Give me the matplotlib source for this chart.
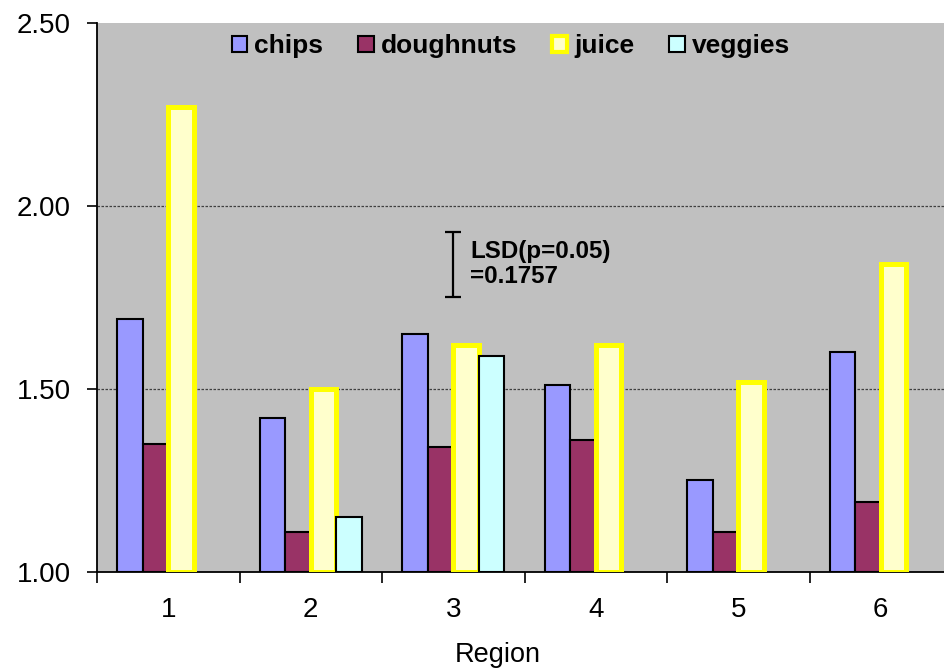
import numpy as np
import matplotlib
matplotlib.use("Agg")
import matplotlib.pyplot as plt

plt.rcParams['font.family'] = ['Liberation Sans', 'DejaVu Sans']

regions = ['1', '2', '3', '4', '5', '6']
chips = [1.69, 1.42, 1.65, 1.51, 1.25, 1.60]
doughnuts = [1.35, 1.11, 1.34, 1.36, 1.11, 1.19]
juice = [2.27, 1.50, 1.62, 1.62, 1.52, 1.84]
veggies = [np.nan, 1.15, 1.59, np.nan, np.nan, np.nan]
lsd = 0.1757
lsd_center = 1.84

base = 1.0
x = np.arange(1, len(regions) + 1)
w = 0.179

fig = plt.figure(figsize=(9.45, 6.71), dpi=100)
ax = fig.add_axes([97 / 945, 1 - 572 / 671, 855 / 945, 549.3 / 671])
ax.set_facecolor('#C0C0C0')

series = [
    ('chips', chips, '#9999FF', 'black', 1.5),
    ('doughnuts', doughnuts, '#993366', 'black', 1.5),
    ('juice', juice, '#FFFFCC', '#FFFF00', 3.6),
    ('veggies', veggies, '#CCFFFF', 'black', 1.5),
]
handles = []
for i, (name, vals, fc, ec, lw) in enumerate(series):
    vals = np.array(vals, dtype=float)
    ok = ~np.isnan(vals)
    ax.bar(x[ok] + (i - 1.5) * w, vals[ok] - base, bottom=base, width=w,
           facecolor=fc, edgecolor=ec, linewidth=lw, zorder=3)
    handles.append(plt.Rectangle((0, 0), 1, 1, facecolor=fc, edgecolor=ec,
                                 linewidth=1.5 if ec == 'black' else 3.0,
                                 label=name))

ax.set_xlim(0.5, 6.5)
ax.set_ylim(1.0, 2.5)
ax.set_yticks([1.0, 1.5, 2.0, 2.5])
ax.set_yticklabels(['1.00', '1.50', '2.00', '2.50'])
ax.set_xticks(x)
ax.set_xticklabels(regions)
ax.set_xticks(np.arange(0.5, 7.0, 1.0), minor=True)
ax.tick_params(axis='x', which='major', length=0, labelsize=20, pad=18)
ax.tick_params(axis='x', which='minor', length=8, width=1.2, direction='out')
ax.tick_params(axis='y', length=7, width=1.2, labelsize=20, pad=12)

for yv in [1.5, 2.0]:
    ax.axhline(yv, color='#404040', linestyle=(0, (2, 1.2)), linewidth=0.9, zorder=1)

for side in ['top', 'right']:
    ax.spines[side].set_visible(False)
ax.spines['left'].set_linewidth(1.3)
ax.spines['bottom'].set_linewidth(1.3)

# LSD bar
ax.errorbar(3.0, lsd_center, yerr=lsd / 2, fmt='none', ecolor='black',
            elinewidth=1.6, capsize=6, capthick=1.6, zorder=4)
ax.text(3.12, lsd_center, 'LSD(p=0.05)\n=%.4f' % lsd, fontsize=17.4,
        fontweight='bold', va='center', ha='left', linespacing=1.1, zorder=4)

ax.legend(handles=handles, loc='center', bbox_to_anchor=(0.484, 0.957), ncol=4,
          frameon=False, handlelength=0.6, handleheight=0.6, handletextpad=0.27,
          columnspacing=1.3, prop={'size': 19, 'weight': 'bold'})

fig.text(498 / 945, 1 - 655 / 671, 'Region', fontsize=19.5, ha='center', va='center')

fig.savefig('out.png', dpi=100)
